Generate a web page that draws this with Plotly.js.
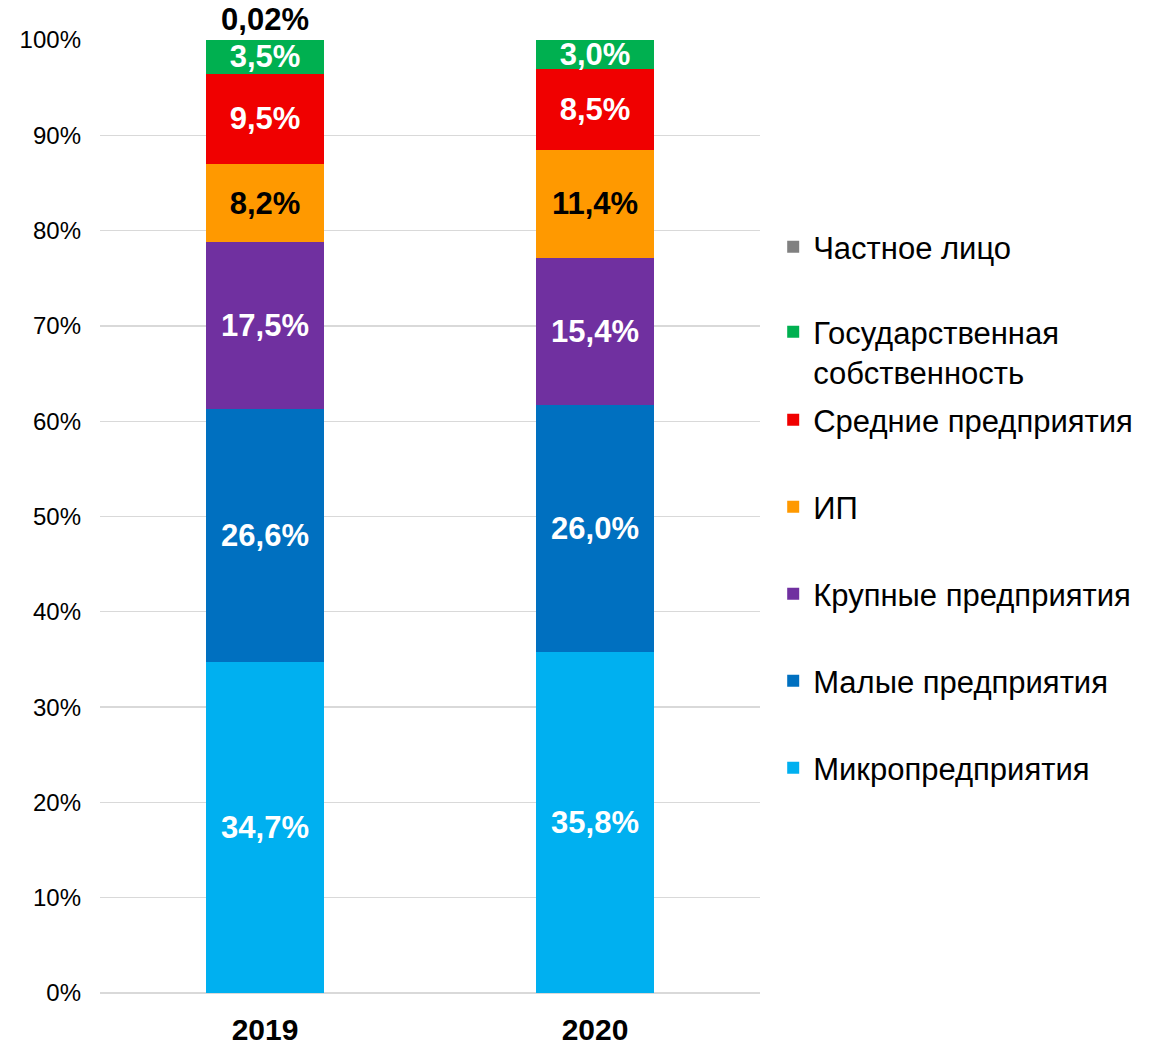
<!DOCTYPE html>
<html>
<head>
<meta charset="utf-8">
<script src="https://cdn.plot.ly/plotly-3.0.1.min.js"></script>
<style>html,body{margin:0;padding:0;background:#fff;}#chart{width:1167px;height:1047px;}</style>
</head>
<body>
<div id="chart"></div>
<script>
const years = ['2019', '2020'];
const seriesNames = ['Микропредприятия', 'Малые предприятия', 'Крупные предприятия', 'ИП', 'Средние предприятия', 'Государственная<br>собственность', 'Частное лицо'];
const micro = [34.7, 35.8];
const small = [26.6, 26.0];
const large = [17.5, 15.4];
const ip = [8.2, 11.4];
const medium = [9.5, 8.5];
const state = [3.5, 3.0];
const privatePerson = [0.02, 0.02];
const yTicks = [0, 10, 20, 30, 40, 50, 60, 70, 80, 90, 100];

const seriesValues = [micro, small, large, ip, medium, state, privatePerson];
const colors = ['#00B0F0', '#0070C0', '#7030A0', '#FF9900', '#F00000', '#00B050', '#808080'];
const textColors = ['#FFFFFF', '#FFFFFF', '#FFFFFF', '#000000', '#FFFFFF', '#FFFFFF', '#000000'];

function fmt(v) {
  return String(v.toFixed(v < 0.1 ? 2 : 1)).replace('.', ',') + '%';
}

const legendIds = seriesValues.map((_, i) => i === 0 ? 'legend' : 'legend' + (i + 1));

const traces = seriesValues.map((vals, i) => ({
  type: 'bar',
  name: seriesNames[i],
  x: years,
  y: vals,
  width: 0.36,
  marker: {color: colors[i], line: {width: 0}},
  text: vals.map(fmt),
  textposition: i === seriesValues.length - 1 ? 'outside' : 'inside',
  insidetextanchor: 'middle',
  constraintext: 'none',
  cliponaxis: false,
  textfont: {family: 'Liberation Sans, Arial, sans-serif', size: 31, color: textColors[i], weight: 'bold'},
  hoverinfo: 'name+y',
  legend: legendIds[i]
}));

const layout = {
  width: 1167,
  height: 1047,
  margin: {l: 100, r: 407, t: 40, b: 54},
  paper_bgcolor: '#FFFFFF',
  plot_bgcolor: '#FFFFFF',
  barmode: 'stack',
  barnorm: 'percent',
  showlegend: true,
  xaxis: {
    type: 'category',
    range: [-0.5, 1.5],
    showgrid: false,
    zeroline: false,
    showline: false,
    ticks: '',
    ticklabelstandoff: 16,
    tickfont: {family: 'Liberation Sans, Arial, sans-serif', size: 30, color: '#000000', weight: 'bold'}
  },
  yaxis: {
    range: [0, 100],
    tickvals: yTicks,
    ticktext: yTicks.map(v => v + '%'),
    showgrid: true,
    gridcolor: '#D9D9D9',
    gridwidth: 1.3,
    zeroline: true,
    zerolinecolor: '#D9D9D9',
    zerolinewidth: 2,
    showline: false,
    ticks: '',
    ticklabelstandoff: 18,
    tickfont: {family: 'Liberation Sans, Arial, sans-serif', size: 24, color: '#000000'}
  }
};

// legend entry placement (paper y of each entry's centre, style only)
const legendCentersPx = [768, 681, 594, 507, 420, 352, 247];
legendIds.forEach((id, i) => {
  layout[id] = {
    x: 1.02, xanchor: 'left',
    y: (993 - legendCentersPx[i]) / 953, yanchor: 'middle',
    valign: 'top',
    font: {family: 'Liberation Sans, Arial, sans-serif', size: 31, color: '#000000'},
    bgcolor: 'rgba(0,0,0,0)'
  };
});

Plotly.newPlot('chart', traces, layout, {displayModeBar: false, staticPlot: true});
</script>
</body>
</html>
